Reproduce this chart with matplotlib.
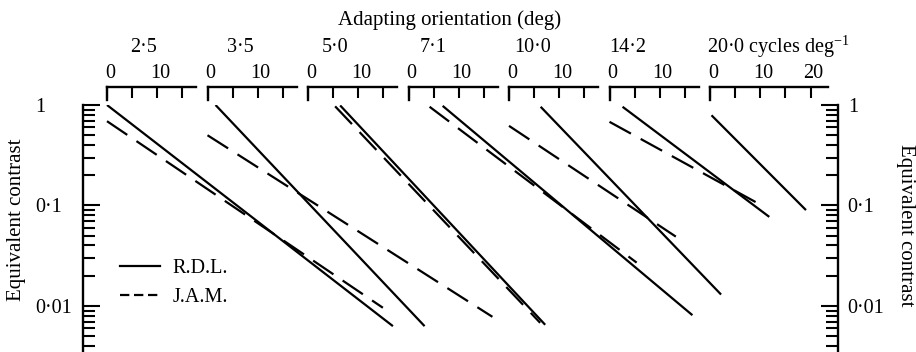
import matplotlib
matplotlib.use('Agg')
import matplotlib.pyplot as plt
import matplotlib.transforms as mtransforms
from matplotlib.lines import Line2D
from matplotlib.ticker import LogLocator, NullFormatter

plt.rcParams['font.family'] = ['Liberation Serif', 'DejaVu Serif']
plt.rcParams['mathtext.fontset'] = 'custom'
plt.rcParams['mathtext.rm'] = 'Liberation Serif'
plt.rcParams['mathtext.it'] = 'Liberation Serif:italic'
plt.rcParams['font.size'] = 14

# spatial frequency of each panel (cycles/deg)
freqs = ['2·5', '3·5', '5·0', '7·1', '10·0', '14·2', '20·0']

# R.D.L. (solid) - start / end of each fitted line: orientation (deg), contrast
rdl_deg0 = [0.0, 1.6, 6.4, 6.8, 6.3, 2.6, 0.3]
rdl_c0 = [1.0, 1.0, 0.99, 0.98, 0.96, 0.96, 0.79]
rdl_deg1 = [56.9, 43.2, 47.2, 56.5, 42.2, 31.8, 19.1]
rdl_c1 = [0.0063, 0.0063, 0.0065, 0.0081, 0.013, 0.077, 0.090]

# J.A.M. (dashed) - no line in the 20 c/deg panel
jam_deg0 = [0.0, 0.0, 5.4, 4.2, 0.0, 0.0]
jam_c0 = [0.69, 0.50, 0.97, 0.96, 0.62, 0.68]
jam_deg1 = [54.9, 56.7, 46.2, 45.4, 33.2, 30.8]
jam_c1 = [0.0096, 0.0078, 0.0068, 0.027, 0.049, 0.097]

W, H = 916, 352
fig = plt.figure(figsize=(W / 100, H / 100), dpi=100)


def box(x, y, w, h):
    # pixel box (top-left origin) -> figure fraction
    return [x / W, 1 - (y + h) / H, w / W, h / H]


PX_DEG = 5.025      # pixels per degree
X0 = 107            # pixel of 0 deg, first panel
STEP = 20           # degrees between panel origins

ax = fig.add_axes(box(83, 105, 755, 247))
ax.set_yscale('log')
ax.set_ylim(10 ** -2.458, 1)
ax.set_xlim((83 - X0) / PX_DEG, (838 - X0) / PX_DEG)
ax.patch.set_visible(False)
for s in ['top', 'bottom', 'right']:
    ax.spines[s].set_visible(False)
ax.spines['left'].set_linewidth(1.7)
ax.set_xticks([])

ax2 = ax.twinx()
ax2.set_yscale('log')
ax2.set_ylim(ax.get_ylim())
for s in ['top', 'bottom', 'left']:
    ax2.spines[s].set_visible(False)
ax2.spines['right'].set_linewidth(1.7)

for a, pad in [(ax, 34.5), (ax2, 7)]:
    a.set_yticks([1, 0.1, 0.01], ['1', '0·1', '0·01'])
    a.yaxis.set_minor_locator(LogLocator(base=10, subs=range(2, 10)))
    a.yaxis.set_minor_formatter(NullFormatter())
    a.tick_params(axis='y', which='major', direction='in', length=12, width=1.5,
                  pad=pad, labelsize=14.5)
    a.tick_params(axis='y', which='minor', direction='in', length=8.5, width=1.5)
for lab in ax.get_yticklabels():
    lab.set_horizontalalignment('left')

for i in range(len(rdl_deg0)):
    off = i * STEP
    ax.plot([off + rdl_deg0[i], off + rdl_deg1[i]], [rdl_c0[i], rdl_c1[i]],
            color='k', lw=1.6, solid_capstyle='butt')
for i in range(len(jam_deg0)):
    off = i * STEP
    ax.plot([off + jam_deg0[i], off + jam_deg1[i]], [jam_c0[i], jam_c1[i]],
            color='k', lw=1.6, ls=(0, (11, 5)))

handles = [Line2D([], [], color='k', lw=1.6),
           Line2D([], [], color='k', lw=1.6, ls=(0, (4.2, 2.1)))]
ax.legend(handles, ['R.D.L.', 'J.A.M.'], loc='center left', frameon=False,
          bbox_to_anchor=(120 / W, 1 - 283 / H), bbox_transform=fig.transFigure,
          borderpad=0, borderaxespad=0, handlelength=2.0, handletextpad=0.6,
          labelspacing=0.5, fontsize=14.5)

# small orientation axes along the top
label_dx = [23, 19, 14, 11, 5, 0, -3]
shift = mtransforms.ScaledTranslation(3 / 100, 0, fig.dpi_scale_trans)
for i, f in enumerate(freqs):
    last = i == len(freqs) - 1
    span = 23.5 if last else 17.8
    left = X0 + i * STEP * PX_DEG
    sa = fig.add_axes(box(left, 87, span * PX_DEG, 13))
    sa.set_xlim(0, span)
    sa.set_ylim(0, 1)
    sa.patch.set_visible(False)
    sa.spines['bottom'].set_visible(False)
    sa.spines['right'].set_visible(False)
    sa.spines['top'].set_linewidth(1.7)
    sa.spines['left'].set_linewidth(1.7)
    sa.set_yticks([])
    sa.xaxis.tick_top()
    sa.set_xticks([0, 10, 20] if last else [0, 10])
    sa.set_xticks([5, 15], minor=True)
    sa.tick_params(axis='x', which='both', direction='in', length=8, width=1.5,
                   pad=3, top=True, bottom=False, labelsize=14.5)
    for lab in sa.get_xticklabels():
        lab.set_transform(lab.get_transform() + shift)
    txt = f + (r' cycles deg$^{-1}$' if last else '')
    fig.text((left + label_dx[i]) / W, 1 - 47 / H, txt, ha='left', va='center', fontsize=14.5)

fig.text(450 / W, 1 - 20 / H, 'Adapting orientation (deg)', ha='center', va='center', fontsize=15)
fig.text(17 / W, 1 - 220 / H, 'Equivalent contrast', rotation=90, ha='center', va='center', fontsize=15)
fig.text(906 / W, 1 - 225 / H, 'Equivalent contrast', rotation=270, ha='center', va='center', fontsize=15)

fig.savefig('out.png', dpi=100)
